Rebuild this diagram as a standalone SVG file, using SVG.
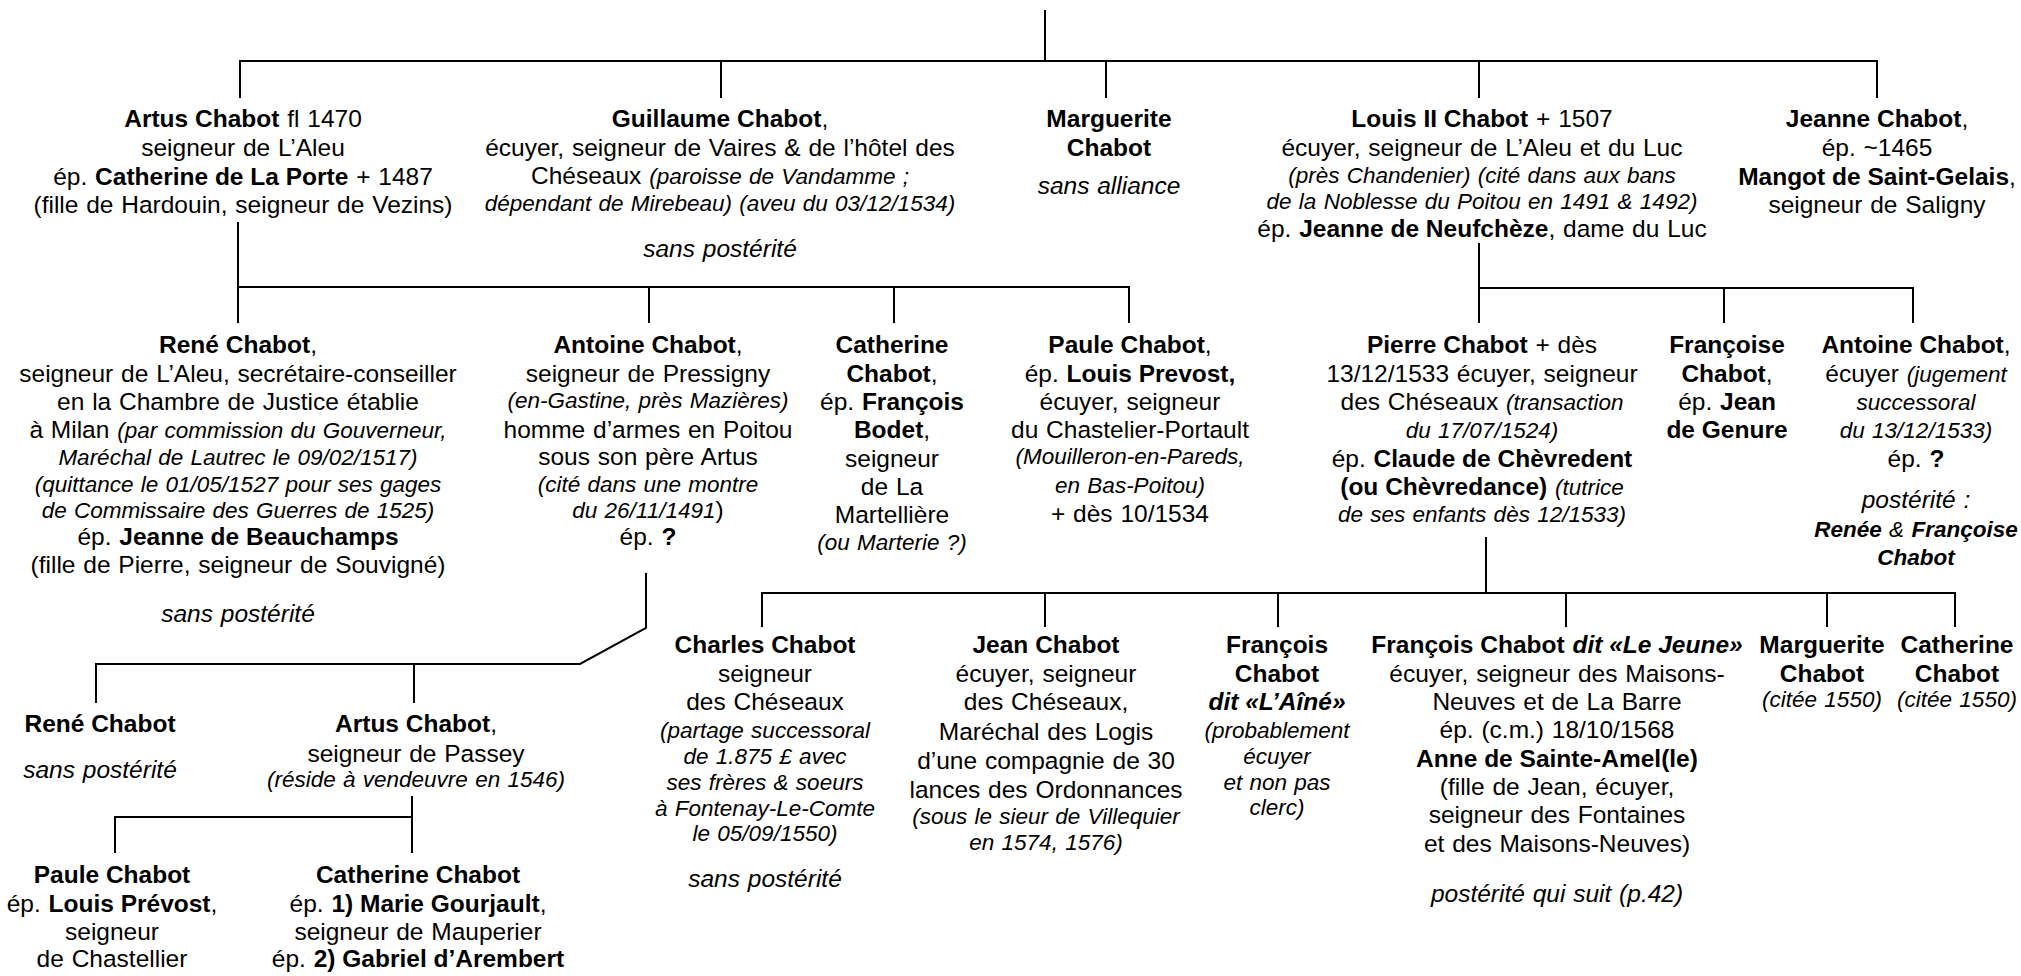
<svg xmlns="http://www.w3.org/2000/svg" width="2021" height="976" viewBox="0 0 2021 976">
<style>
text{font-family:"Liberation Sans",Arial,sans-serif;font-size:24.5px;text-anchor:middle;fill:#000;word-spacing:1px}
.b{font-weight:bold;word-spacing:0}
.i{font-style:italic;font-size:22.5px}
.i2{font-style:italic}
.bi{font-weight:bold;font-style:italic;word-spacing:0}
.sm{font-size:22.5px}
.c line,.c polyline{stroke:#000;stroke-width:2;fill:none}
</style>
<rect width="2021" height="976" fill="#fff"/>
<g class="c" id="connectors">
<line x1="1045" y1="10" x2="1045" y2="61"/>
<line x1="239" y1="61" x2="1878" y2="61"/>
<line x1="240" y1="61" x2="240" y2="98"/>
<line x1="721" y1="61" x2="721" y2="98"/>
<line x1="1106" y1="61" x2="1106" y2="98"/>
<line x1="1479" y1="61" x2="1479" y2="98"/>
<line x1="1877" y1="61" x2="1877" y2="98"/>
<line x1="238" y1="222" x2="238" y2="323"/>
<line x1="237" y1="287" x2="1130" y2="287"/>
<line x1="649" y1="287" x2="649" y2="323"/>
<line x1="894" y1="287" x2="894" y2="323"/>
<line x1="1129" y1="287" x2="1129" y2="323"/>
<line x1="1479" y1="243" x2="1479" y2="323"/>
<line x1="1478" y1="288" x2="1914" y2="288"/>
<line x1="1724" y1="288" x2="1724" y2="323"/>
<line x1="1913" y1="288" x2="1913" y2="323"/>
<polyline points="646,573 646,628 580,664 96,664 96,703"/>
<line x1="414" y1="664" x2="414" y2="703"/>
<line x1="412" y1="796" x2="412" y2="853"/>
<polyline points="412,817 115,817 115,853"/>
<line x1="1486" y1="537" x2="1486" y2="593"/>
<line x1="761" y1="593" x2="1956" y2="593"/>
<line x1="762" y1="593" x2="762" y2="627"/>
<line x1="1045" y1="593" x2="1045" y2="627"/>
<line x1="1278" y1="593" x2="1278" y2="627"/>
<line x1="1566" y1="593" x2="1566" y2="627"/>
<line x1="1827" y1="593" x2="1827" y2="627"/>
<line x1="1955" y1="593" x2="1955" y2="627"/>
</g>
<g id="artus">
<text x="243" y="127"><tspan class="b">Artus Chabot</tspan> fl 1470</text>
<text x="243" y="156">seigneur de L’Aleu</text>
<text x="243" y="185">ép. <tspan class="b">Catherine de La Porte</tspan> + 1487</text>
<text x="243" y="213">(fille de Hardouin, seigneur de Vezins)</text>
</g>
<g id="guillaume">
<text x="720" y="127"><tspan class="b">Guillaume Chabot</tspan>,</text>
<text x="720" y="156">écuyer, seigneur de Vaires &amp; de l’hôtel des</text>
<text x="720" y="184">Chéseaux <tspan class="i">(paroisse de Vandamme ;</tspan></text>
<text x="720" y="211" class="i">dépendant de Mirebeau) (aveu du 03/12/1534)</text>
<text x="720" y="257" class="i2">sans postérité</text>
</g>
<g id="marguerite">
<text x="1109" y="127" class="b">Marguerite</text>
<text x="1109" y="156" class="b">Chabot</text>
<text x="1109" y="194" class="i2">sans alliance</text>
</g>
<g id="louis">
<text x="1482" y="127"><tspan class="b">Louis II Chabot</tspan> + 1507</text>
<text x="1482" y="156">écuyer, seigneur de L’Aleu et du Luc</text>
<text x="1482" y="183" class="i">(près Chandenier) (cité dans aux bans</text>
<text x="1482" y="209" class="i">de la Noblesse du Poitou en 1491 &amp; 1492)</text>
<text x="1482" y="237">ép. <tspan class="b">Jeanne de Neufchèze</tspan>, dame du Luc</text>
</g>
<g id="jeanne">
<text x="1877" y="127"><tspan class="b">Jeanne Chabot</tspan>,</text>
<text x="1877" y="156">ép. ~1465</text>
<text x="1877" y="185"><tspan class="b">Mangot de Saint-Gelais</tspan>,</text>
<text x="1877" y="213">seigneur de Saligny</text>
</g>
<g id="rene">
<text x="238" y="353"><tspan class="b">René Chabot</tspan>,</text>
<text x="238" y="382">seigneur de L’Aleu, secrétaire-conseiller</text>
<text x="238" y="410">en la Chambre de Justice établie</text>
<text x="238" y="438">à Milan <tspan class="i">(par commission du Gouverneur,</tspan></text>
<text x="238" y="465" class="i">Maréchal de Lautrec le 09/02/1517)</text>
<text x="238" y="492" class="i">(quittance le 01/05/1527 pour ses gages</text>
<text x="238" y="518" class="i">de Commissaire des Guerres de 1525)</text>
<text x="238" y="545">ép. <tspan class="b">Jeanne de Beauchamps</tspan></text>
<text x="238" y="573">(fille de Pierre, seigneur de Souvigné)</text>
<text x="238" y="622" class="i2">sans postérité</text>
</g>
<g id="antoine">
<text x="648" y="353"><tspan class="b">Antoine Chabot</tspan>,</text>
<text x="648" y="382">seigneur de Pressigny</text>
<text x="648" y="408" class="i">(en-Gastine, près Mazières)</text>
<text x="648" y="438">homme d’armes en Poitou</text>
<text x="648" y="465">sous son père Artus</text>
<text x="648" y="492" class="i">(cité dans une montre</text>
<text x="648" y="518"><tspan class="i">du 26/11/1491</tspan>)</text>
<text x="648" y="545">ép. <tspan class="b">?</tspan></text>
</g>
<g id="catherine">
<text x="892" y="353" class="b">Catherine</text>
<text x="892" y="382"><tspan class="b">Chabot</tspan>,</text>
<text x="892" y="410">ép. <tspan class="b">François</tspan></text>
<text x="892" y="438"><tspan class="b">Bodet</tspan>,</text>
<text x="892" y="467">seigneur</text>
<text x="892" y="495">de La</text>
<text x="892" y="523">Martellière</text>
<text x="892" y="550" class="i">(ou Marterie ?)</text>
</g>
<g id="paule">
<text x="1130" y="353"><tspan class="b">Paule Chabot</tspan>,</text>
<text x="1130" y="382">ép. <tspan class="b">Louis Prevost,</tspan></text>
<text x="1130" y="410">écuyer, seigneur</text>
<text x="1130" y="438">du Chastelier-Portault</text>
<text x="1130" y="464" class="i">(Mouilleron-en-Pareds,</text>
<text x="1130" y="493" class="i">en Bas-Poitou)</text>
<text x="1130" y="522">+ dès 10/1534</text>
</g>
<g id="pierre">
<text x="1482" y="353"><tspan class="b">Pierre Chabot</tspan> + dès</text>
<text x="1482" y="382">13/12/1533 écuyer, seigneur</text>
<text x="1482" y="410">des Chéseaux <tspan class="i">(transaction</tspan></text>
<text x="1482" y="438" class="i">du 17/07/1524)</text>
<text x="1482" y="467">ép. <tspan class="b">Claude de Chèvredent</tspan></text>
<text x="1482" y="495"><tspan class="b">(ou Chèvredance)</tspan> <tspan class="i">(tutrice</tspan></text>
<text x="1482" y="522" class="i">de ses enfants dès 12/1533)</text>
</g>
<g id="francoise">
<text x="1727" y="353" class="b">Françoise</text>
<text x="1727" y="382"><tspan class="b">Chabot</tspan>,</text>
<text x="1727" y="410">ép. <tspan class="b">Jean</tspan></text>
<text x="1727" y="438" class="b">de Genure</text>
</g>
<g id="antoine2">
<text x="1916" y="353"><tspan class="b">Antoine Chabot</tspan>,</text>
<text x="1916" y="382">écuyer <tspan class="i">(jugement</tspan></text>
<text x="1916" y="410" class="i">successoral</text>
<text x="1916" y="438" class="i">du 13/12/1533)</text>
<text x="1916" y="467">ép. <tspan class="b">?</tspan></text>
<text x="1916" y="508" class="i2">postérité :</text>
<text x="1916" y="537" class="sm"><tspan class="bi">Renée</tspan> <tspan class="i2">&amp;</tspan> <tspan class="bi">Françoise</tspan></text>
<text x="1916" y="565" class="bi sm">Chabot</text>
</g>
<g id="rene2">
<text x="100" y="732" class="b">René Chabot</text>
<text x="100" y="778" class="i2">sans postérité</text>
</g>
<g id="artus2">
<text x="416" y="732"><tspan class="b">Artus Chabot</tspan>,</text>
<text x="416" y="762">seigneur de Passey</text>
<text x="416" y="787" class="i">(réside à vendeuvre en 1546)</text>
</g>
<g id="paule2">
<text x="112" y="883" class="b">Paule Chabot</text>
<text x="112" y="912">ép. <tspan class="b">Louis Prévost</tspan>,</text>
<text x="112" y="940">seigneur</text>
<text x="112" y="967">de Chastellier</text>
</g>
<g id="catherine2">
<text x="418" y="883" class="b">Catherine Chabot</text>
<text x="418" y="912">ép. <tspan class="b">1) Marie Gourjault</tspan>,</text>
<text x="418" y="940">seigneur de Mauperier</text>
<text x="418" y="967">ép. <tspan class="b">2) Gabriel d’Arembert</tspan></text>
</g>
<g id="charles">
<text x="765" y="653" class="b">Charles Chabot</text>
<text x="765" y="682">seigneur</text>
<text x="765" y="710">des Chéseaux</text>
<text x="765" y="738" class="i">(partage successoral</text>
<text x="765" y="764" class="i">de 1.875 £ avec</text>
<text x="765" y="790" class="i">ses frères &amp; soeurs</text>
<text x="765" y="816" class="i">à Fontenay-Le-Comte</text>
<text x="765" y="841" class="i">le 05/09/1550)</text>
<text x="765" y="887" class="i2">sans postérité</text>
</g>
<g id="jean">
<text x="1046" y="653" class="b">Jean Chabot</text>
<text x="1046" y="682">écuyer, seigneur</text>
<text x="1046" y="710">des Chéseaux,</text>
<text x="1046" y="740">Maréchal des Logis</text>
<text x="1046" y="769">d’une compagnie de 30</text>
<text x="1046" y="798">lances des Ordonnances</text>
<text x="1046" y="824" class="i">(sous le sieur de Villequier</text>
<text x="1046" y="850" class="i">en 1574, 1576)</text>
</g>
<g id="francois-aine">
<text x="1277" y="653" class="b">François</text>
<text x="1277" y="682" class="b">Chabot</text>
<text x="1277" y="710" class="bi">dit «L’Aîné»</text>
<text x="1277" y="738" class="i">(probablement</text>
<text x="1277" y="764" class="i">écuyer</text>
<text x="1277" y="790" class="i">et non pas</text>
<text x="1277" y="815" class="i">clerc)</text>
</g>
<g id="francois-jeune">
<text x="1557" y="653"><tspan class="b">François Chabot</tspan> <tspan class="bi">dit «Le Jeune»</tspan></text>
<text x="1557" y="682">écuyer, seigneur des Maisons-</text>
<text x="1557" y="710">Neuves et de La Barre</text>
<text x="1557" y="738">ép. (c.m.) 18/10/1568</text>
<text x="1557" y="767" class="b">Anne de Sainte-Amel(le)</text>
<text x="1557" y="795">(fille de Jean, écuyer,</text>
<text x="1557" y="823">seigneur des Fontaines</text>
<text x="1557" y="852">et des Maisons-Neuves)</text>
<text x="1557" y="902" class="i2">postérité qui suit (p.42)</text>
</g>
<g id="marguerite2">
<text x="1822" y="653" class="b">Marguerite</text>
<text x="1822" y="682" class="b">Chabot</text>
<text x="1822" y="707" class="i">(citée 1550)</text>
</g>
<g id="catherine3">
<text x="1957" y="653" class="b">Catherine</text>
<text x="1957" y="682" class="b">Chabot</text>
<text x="1957" y="707" class="i">(citée 1550)</text>
</g>
</svg>
